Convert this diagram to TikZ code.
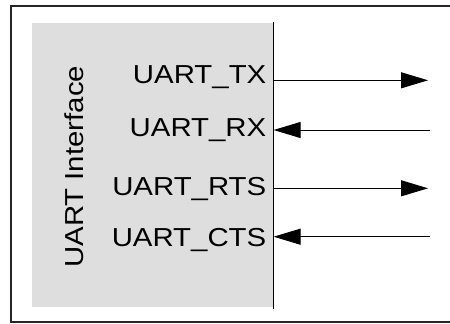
\documentclass[tikz,border=0pt]{standalone}
\usepackage{fontspec}
\newfontfamily\uartfont[FakeStretch=1.13]{Liberation Sans}
\usetikzlibrary{arrows.meta}
\definecolor{boxgray}{HTML}{DEDEDE}
\tikzset{
    iface-box/.style = {fill=boxgray, rectangle, inner sep=0pt, minimum width=241pt, minimum height=284pt},
    signal-label/.style = {inner sep=0pt, font=\uartfont\fontsize{26}{26}\selectfont, anchor=base east},
    pin-arrow/.style = {line width=1pt, -{Triangle[length=27pt,width=16pt]}},
}

\begin{document}
\begin{tikzpicture}[x=1pt,y=-1pt]
\useasboundingbox (0,0) rectangle (450,324);
\draw[line width=1.3pt, black!85] (460,6) -- (11,6) -- (11,322) -- (460,322);
\node[iface-box] (iface) at (152.5,165) {};
\draw[line width=1.3pt] ([yshift=1pt]iface.north east) -- ([yshift=-2pt]iface.south east);
\node[signal-label, rotate=90, anchor=base west] (title) at (83,268) {UART Interface};

% signal names
\node[signal-label] (tx) at (266.5,83.5) {UART\_TX};
\node[signal-label] (rx) at (266.5,136.5) {UART\_RX};
\node[signal-label] (rts) at (266.5,195) {UART\_RTS};
\node[signal-label] (cts) at (266.5,246.5) {UART\_CTS};

% pins and free ends
\coordinate (tx-pin) at (273,80.3);
\coordinate (rx-pin) at (273.6,130);
\coordinate (rts-pin) at (273,188.3);
\coordinate (cts-pin) at (273.6,236.7);
\coordinate (tx-end) at (428,80.3);
\coordinate (rx-end) at (430,130);
\coordinate (rts-end) at (428,188.3);
\coordinate (cts-end) at (430,236.7);

\draw[pin-arrow] (tx-pin) -- (tx-end);
\draw[pin-arrow] (rx-end) -- (rx-pin);
\draw[pin-arrow] (rts-pin) -- (rts-end);
\draw[pin-arrow] (cts-end) -- (cts-pin);
\end{tikzpicture}
\end{document}
